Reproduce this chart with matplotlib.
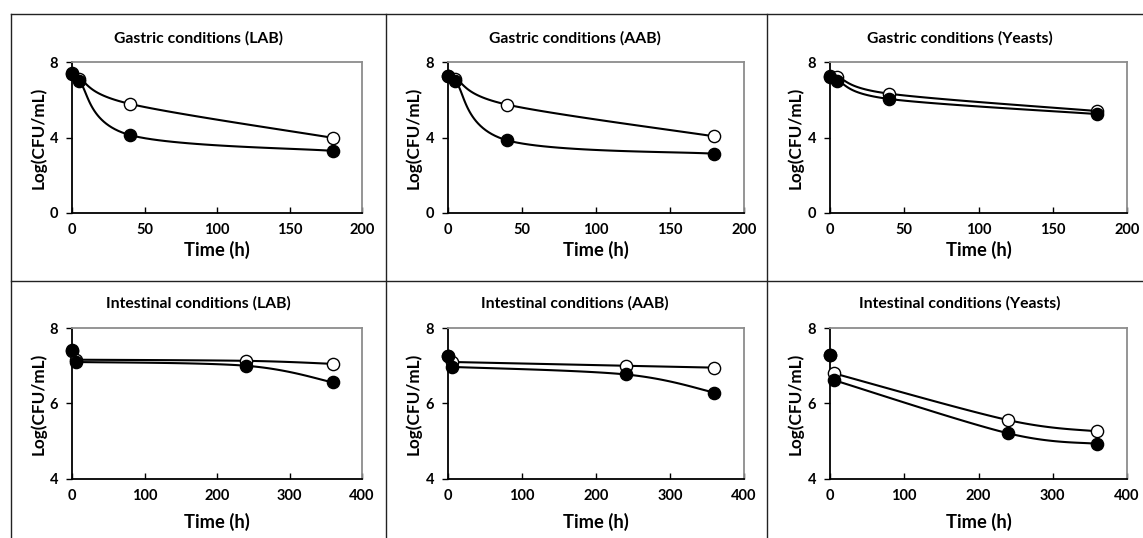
import numpy as np
import matplotlib
matplotlib.use("Agg")
import matplotlib.pyplot as plt
from matplotlib.lines import Line2D

plt.rcParams['font.family'] = ['Lato', 'DejaVu Sans']
plt.rcParams['font.weight'] = 'bold'

W, H = 1143, 538

# sampling times (h)
t_gastric = [0, 5, 40, 180]
t_intestinal = [0, 5, 240, 360]

# Log(CFU/mL), open = first series, filled = second series
gas_lab_open = [7.40, 7.12, 5.78, 3.98]
gas_lab_fill = [7.38, 6.98, 4.13, 3.29]
gas_aab_open = [7.25, 7.10, 5.74, 4.06]
gas_aab_fill = [7.24, 6.98, 3.85, 3.14]
gas_yea_open = [7.24, 7.20, 6.32, 5.40]
gas_yea_fill = [7.22, 7.00, 6.04, 5.24]

int_lab_open = [7.40, 7.16, 7.13, 7.05]
int_lab_fill = [7.41, 7.10, 7.00, 6.56]
int_aab_open = [7.26, 7.10, 7.00, 6.95]
int_aab_fill = [7.26, 6.97, 6.77, 6.29]
int_yea_open = [7.28, 6.80, 5.56, 5.26]
int_yea_fill = [7.28, 6.62, 5.21, 4.93]

titles = ["Gastric conditions (LAB)", "Gastric conditions (AAB)", "Gastric conditions (Yeasts)",
          "Intestinal conditions (LAB)", "Intestinal conditions (AAB)", "Intestinal conditions (Yeasts)"]

panels = [
    (t_gastric, gas_lab_open, gas_lab_fill),
    (t_gastric, gas_aab_open, gas_aab_fill),
    (t_gastric, gas_yea_open, gas_yea_fill),
    (t_intestinal, int_lab_open, int_lab_fill),
    (t_intestinal, int_aab_open, int_aab_fill),
    (t_intestinal, int_yea_open, int_yea_fill),
]

# pixel boxes of plot areas
cols = [(72, 362), (448, 744), (830, 1127)]
rows = [(62, 213), (328, 479)]
cell_centers = [198, 575, 960]
ylab_x = [38, 413, 795]


def smooth(ax, x, y, n=30):
    # Excel-like smoothed line, built in display space
    pts = ax.transData.transform(np.column_stack([x, y]))
    m = len(pts)
    out = []
    for i in range(m - 1):
        p0 = pts[max(i - 1, 0)]
        p1 = pts[i]
        p2 = pts[i + 1]
        p3 = pts[min(i + 2, m - 1)]
        c1 = p1 + (p2 - p0) / 6.0
        c2 = p2 - (p3 - p1) / 6.0
        s = np.linspace(0, 1, n)[:, None]
        seg = ((1 - s) ** 3) * p1 + 3 * ((1 - s) ** 2) * s * c1 + 3 * (1 - s) * s ** 2 * c2 + s ** 3 * p2
        out.append(seg)
    out = np.vstack(out)
    d = ax.transData.inverted().transform(out)
    return d[:, 0], d[:, 1]


fig = plt.figure(figsize=(W / 100, H / 100), dpi=100)

for k, (t, yo, yf) in enumerate(panels):
    r, c = divmod(k, 3)
    x0, x1 = cols[c]
    y0, y1 = rows[r]
    ax = fig.add_axes([x0 / W, 1 - y1 / H, (x1 - x0) / W, (y1 - y0) / H])
    if r == 0:
        xmax, ylo = 200, 0
        ax.set_xticks([0, 50, 100, 150, 200])
        ax.set_yticks([0, 4, 8])
        start = 0
    else:
        xmax, ylo = 400, 4
        ax.set_xticks([0, 100, 200, 300, 400])
        ax.set_yticks([4, 6, 8])
        start = 1
    ax.set_xlim(0, xmax)
    ax.set_ylim(ylo, 8)

    for s in ['left', 'bottom']:
        ax.spines[s].set_color('black')
        ax.spines[s].set_linewidth(1.3)
    for s in ['top', 'right']:
        ax.spines[s].set_color('#8c8c8c')
        ax.spines[s].set_linewidth(1.3)
    ax.tick_params(axis='x', direction='in', length=4, width=1, pad=7, labelsize=10.5)
    ax.tick_params(axis='y', direction='out', length=4, width=1, pad=6, labelsize=10.5)
    for lab in ax.get_xticklabels() + ax.get_yticklabels():
        lab.set_fontweight('bold')

    sx, sy = smooth(ax, t[start:], yo[start:])
    ax.plot(sx, sy, color='black', lw=1.5, zorder=2, clip_on=False)
    ax.plot(t, yo, 'o', ms=8.8, mfc='white', mec='black', mew=1.0, zorder=3, clip_on=False)
    sx, sy = smooth(ax, t[start:], yf[start:])
    ax.plot(sx, sy, color='black', lw=1.5, zorder=4, clip_on=False)
    ax.plot(t, yf, 'o', ms=8.8, mfc='black', mec='black', mew=1.0, zorder=5, clip_on=False)

    ty = 38 if r == 0 else 303
    fig.text(cell_centers[c] / W, 1 - ty / H, titles[k], ha='center', va='center',
             fontsize=11.3, fontweight='bold')
    xly = 250 if r == 0 else 522
    fig.text((x0 + x1) / 2 / W, 1 - xly / H, "Time (h)", ha='center', va='center',
             fontsize=13.2, fontweight='bold')
    fig.text(ylab_x[c] / W, 1 - (y0 + y1) / 2 / H, "Log(CFU/mL)", ha='center', va='center',
             rotation=90, fontsize=12.3, fontweight='bold')

# table-like frame lines
lc = '#222222'
fig.add_artist(Line2D([11 / W, 1], [1 - 14 / H, 1 - 14 / H], color=lc, lw=1.0))
fig.add_artist(Line2D([11 / W, 1], [1 - 281 / H, 1 - 281 / H], color=lc, lw=1.0))
fig.add_artist(Line2D([11 / W, 11 / W], [0, 1 - 14 / H], color=lc, lw=1.0))
fig.add_artist(Line2D([386 / W, 386 / W], [0, 1 - 14 / H], color=lc, lw=1.0))
fig.add_artist(Line2D([767 / W, 767 / W], [0, 1 - 14 / H], color=lc, lw=1.0))

fig.savefig("out.png", dpi=100)
